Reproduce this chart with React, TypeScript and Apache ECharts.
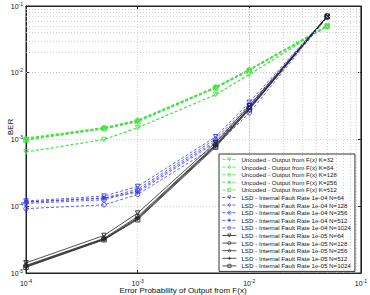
import React, { useEffect, useRef } from "react";
import * as echarts from "echarts";

// Error probability of output from F(x)
const X_VALUES = [1e-4, 5e-4, 1e-3, 5e-3, 1e-2, 5e-2];

// Uncoded
const UNC_K32 = [6.5e-4, 1.0e-3, 1.5e-3, 4.7e-3, 9.4e-3, 5.0e-2];
const UNC_K64 = [1.02e-3, 1.45e-3, 1.9e-3, 6.0e-3, 1.1e-2, 5.0e-2];
const UNC_K128 = [1.0e-3, 1.5e-3, 1.95e-3, 6.1e-3, 1.1e-2, 5.0e-2];
const UNC_K256 = [1.05e-3, 1.5e-3, 1.9e-3, 6.1e-3, 1.12e-2, 5.1e-2];
const UNC_K512 = [0.98e-3, 1.45e-3, 1.85e-3, 5.9e-3, 1.08e-2, 5.0e-2];

// LSD - internal fault rate 1e-04
const LSD4_N64 = [1.2e-4, 1.42e-4, 1.98e-4, 1.1e-3, 3.6e-3, 7.0e-2];
const LSD4_N128 = [1.15e-4, 1.32e-4, 1.8e-4, 1.02e-3, 3.3e-3, 7.0e-2];
const LSD4_N256 = [1.1e-4, 1.25e-4, 1.7e-4, 9.5e-4, 3.1e-3, 7.0e-2];
const LSD4_N512 = [1.16e-4, 1.33e-4, 1.62e-4, 9.0e-4, 2.9e-3, 7.0e-2];
const LSD4_N1024 = [9.2e-5, 1.05e-4, 1.5e-4, 8.0e-4, 2.5e-3, 6.8e-2];

// LSD - internal fault rate 1e-05
const LSD5_N64 = [1.42e-5, 3.65e-5, 7.9e-5, 9.0e-4, 3.2e-3, 7.0e-2];
const LSD5_N128 = [1.3e-5, 3.3e-5, 7.0e-5, 8.4e-4, 3.0e-3, 7.0e-2];
const LSD5_N256 = [1.27e-5, 3.25e-5, 6.7e-5, 8.2e-4, 2.95e-3, 7.0e-2];
const LSD5_N512 = [1.24e-5, 3.18e-5, 6.5e-5, 8.0e-4, 2.85e-3, 7.0e-2];
const LSD5_N1024 = [1.22e-5, 3.15e-5, 6.3e-5, 7.7e-4, 2.8e-3, 6.9e-2];

const X_DECADES = [1e-4, 1e-3, 1e-2];
const Y_DECADES = [1e-5, 1e-4, 1e-3, 1e-2];
const MINOR_STEPS = [2, 3, 4, 5, 6, 7, 8, 9];

const GREEN = "#3ee63e";
const BLUE = "#3a3af0";
const BLACK = "#262626";

const STAR = "path://M5 0L5 10M0 5L10 5M1.5 1.5L8.5 8.5M8.5 1.5L1.5 8.5";
const PLUS = "path://M5 0L5 10M0 5L10 5";

const FONT = "Liberation Sans, Arial, Helvetica, sans-serif";

type Def = {
  name: string;
  data: number[];
  color: string;
  dashed: boolean;
  symbol: string;
  rotate?: number;
};

const SERIES: Def[] = [
  { name: "Uncoded - Output from F(x) K=32", data: UNC_K32, color: GREEN, dashed: true, symbol: "triangle", rotate: 180 },
  { name: "Uncoded - Output from F(x) K=64", data: UNC_K64, color: GREEN, dashed: true, symbol: "diamond" },
  { name: "Uncoded - Output from F(x) K=128", data: UNC_K128, color: GREEN, dashed: true, symbol: "circle" },
  { name: "Uncoded - Output from F(x) K=256", data: UNC_K256, color: GREEN, dashed: true, symbol: STAR },
  { name: "Uncoded - Output from F(x) K=512", data: UNC_K512, color: GREEN, dashed: true, symbol: "rect" },
  { name: "LSD - Internal Fault Rate 1e-04 N=64", data: LSD4_N64, color: BLUE, dashed: true, symbol: "triangle", rotate: 180 },
  { name: "LSD - Internal Fault Rate 1e-04 N=128", data: LSD4_N128, color: BLUE, dashed: true, symbol: "diamond" },
  { name: "LSD - Internal Fault Rate 1e-04 N=256", data: LSD4_N256, color: BLUE, dashed: true, symbol: "circle" },
  { name: "LSD - Internal Fault Rate 1e-04 N=512", data: LSD4_N512, color: BLUE, dashed: true, symbol: STAR },
  { name: "LSD - Internal Fault Rate 1e-04 N=1024", data: LSD4_N1024, color: BLUE, dashed: true, symbol: "circle" },
  { name: "LSD - Internal Fault Rate 1e-05 N=64", data: LSD5_N64, color: BLACK, dashed: false, symbol: "triangle", rotate: 180 },
  { name: "LSD - Internal Fault Rate 1e-05 N=128", data: LSD5_N128, color: BLACK, dashed: false, symbol: "circle" },
  { name: "LSD - Internal Fault Rate 1e-05 N=256", data: LSD5_N256, color: BLACK, dashed: false, symbol: "diamond" },
  { name: "LSD - Internal Fault Rate 1e-05 N=512", data: LSD5_N512, color: BLACK, dashed: false, symbol: PLUS },
  { name: "LSD - Internal Fault Rate 1e-05 N=1024", data: LSD5_N1024, color: BLACK, dashed: false, symbol: "rect" },
];

const powLabel = (v: number) => "{b|10}{s|" + Math.round(Math.log10(v)) + "}";
const labelRich = {
  b: { fontSize: 7, fontFamily: FONT, color: "#111" },
  s: { fontSize: 5, fontFamily: FONT, color: "#111", padding: [0, 0, 5, 0] },
};

export default function App() {
  const ref = useRef<HTMLDivElement>(null);
  useEffect(() => {
    if (!ref.current) return;
    const chart = echarts.init(ref.current, undefined, { renderer: "svg" });

    const minorX: any[] = [];
    X_DECADES.forEach((d) => MINOR_STEPS.forEach((k) => minorX.push({ xAxis: d * k })));
    const minorY: any[] = [];
    Y_DECADES.forEach((d) => MINOR_STEPS.forEach((k) => minorY.push({ yAxis: d * k })));

    const gridLine = { color: "#c4c4c4", type: [1, 2] as any, width: 0.8 };

    const axisCommon = {
      type: "log" as const,
      logBase: 10,
      axisLine: { show: true, lineStyle: { color: "#222", width: 1 } },
      axisTick: { show: true, inside: true, length: 3, lineStyle: { color: "#222" } },
    };

    const series: any[] = SERIES.map((s) => ({
      name: s.name,
      type: "line",
      data: X_VALUES.map((x, i) => [x, s.data[i]]),
      symbol: s.symbol,
      symbolSize: 4.5,
      symbolRotate: s.rotate || 0,
      showSymbol: true,
      lineStyle: { color: s.color, width: s.color === GREEN ? 1.2 : 0.8, type: s.dashed ? [3, 2] : "solid" },
      itemStyle: { color: "rgba(255,255,255,0)", borderColor: s.color, borderWidth: 0.9 },
      emphasis: { disabled: true },
      z: 3,
    }));

    series.unshift({
      name: "__grid",
      type: "line",
      data: [],
      silent: true,
      z: 1,
      markLine: {
        silent: true,
        symbol: ["none", "none"],
        label: { show: false },
        lineStyle: gridLine,
        emphasis: { disabled: true },
        data: [...minorX, ...minorY],
      },
    });

    chart.setOption({
      animation: false,
      backgroundColor: "#ffffff",
      textStyle: { fontFamily: FONT },
      grid: { left: 26, right: 8, top: 6, bottom: 22, show: true, borderColor: "#222", borderWidth: 1 },
      legend: {
        data: SERIES.map((s) => s.name),
        orient: "vertical",
        left: 219,
        top: 154,
        padding: [2, 4, 2, 3],
        itemWidth: 14,
        itemHeight: 4,
        itemGap: 0.6,
        backgroundColor: "#ffffff",
        borderColor: "#333",
        borderWidth: 1,
        selectedMode: false,
        itemStyle: { borderWidth: 0.7 },
        lineStyle: { width: 0.8 },
        textStyle: { fontSize: 6.2, lineHeight: 7, color: "#111", fontFamily: FONT },
      },
      xAxis: [
        {
          ...axisCommon,
          min: 1e-4,
          max: 1e-1,
          position: "bottom",
          axisLabel: { formatter: powLabel, rich: labelRich, margin: 5 },
          splitLine: { show: true, lineStyle: gridLine },
        },
        {
          ...axisCommon,
          min: 1e-4,
          max: 1e-1,
          position: "top",
          axisLabel: { show: false },
          splitLine: { show: false },
        },
      ],
      yAxis: [
        {
          ...axisCommon,
          min: 1e-5,
          max: 1e-1,
          position: "left",
          axisLabel: { formatter: powLabel, rich: labelRich, margin: 3 },
          splitLine: { show: true, lineStyle: gridLine },
        },
        {
          ...axisCommon,
          min: 1e-5,
          max: 1e-1,
          position: "right",
          axisLabel: { show: false },
          splitLine: { show: false },
        },
      ],
      graphic: [
        {
          type: "text",
          x: 183,
          y: 290,
          style: { text: "Error Probability of Output from F(x)", fontSize: 8, fontFamily: FONT, fill: "#111", align: "center", verticalAlign: "middle" },
        },
        {
          type: "text",
          x: 10,
          y: 127,
          rotation: Math.PI / 2,
          style: { text: "BER", fontSize: 8, fontFamily: FONT, fill: "#111", align: "center", verticalAlign: "middle" },
        },
      ],
      series,
    });
    return () => chart.dispose();
  }, []);
  return <div ref={ref} style={{ position: "absolute", left: 0, top: 0, width: 370, height: 295 }} />;
}
